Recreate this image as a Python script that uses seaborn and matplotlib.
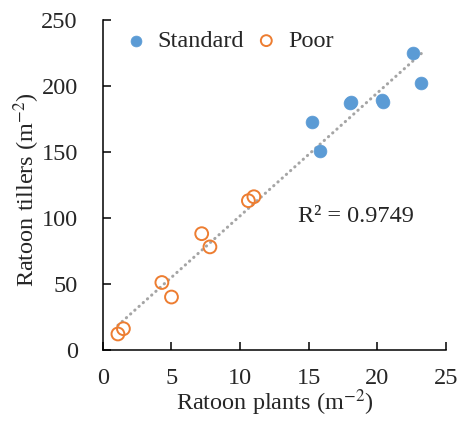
import numpy as np
import pandas as pd
import seaborn as sns
from matplotlib import pyplot as plt

# valori
standard_x = [15.2, 15.8, 18.0, 18.1, 20.3, 20.4, 22.6, 23.2]
standard_y = [173, 151, 187, 188, 189, 188, 225, 202]
poor_x = [1.1, 1.5, 4.3, 5.0, 7.2, 7.8, 10.6, 11.0]
poor_y = [12, 16, 51, 40, 88, 78, 113, 116]
r2_label = "R² = 0.9749"

sns.set_theme(style="ticks")
plt.rcParams['font.family'] = ['Liberation Serif', 'DejaVu Serif']
plt.rcParams['mathtext.fontset'] = 'stix'

df = pd.DataFrame({
    'x': standard_x + poor_x,
    'y': standard_y + poor_y,
    'grup': ['Standard'] * len(standard_x) + ['Poor'] * len(poor_x),
})

fig = plt.figure(figsize=(4.59, 4.23), dpi=100)
ax = fig.add_axes([0.224, 0.173, 0.748, 0.780])

# linia de tendinta
coef = np.polyfit(df['x'], df['y'], 1)
xl = np.array([min(poor_x), max(standard_x)])
ax.plot(xl, np.polyval(coef, xl), color='#A5A5A5', lw=2.2, ls=(0, (0.1, 1.75)),
        dash_capstyle='round', zorder=1)

std = df[df['grup'] == 'Standard']
poor = df[df['grup'] == 'Poor']
sns.scatterplot(data=std, x='x', y='y', ax=ax, color='#5B9BD5', s=85,
                edgecolor='#5B9BD5', linewidth=0.5, label='Standard', zorder=3)
sns.scatterplot(data=poor, x='x', y='y', ax=ax, facecolor='none', s=85,
                edgecolor='#ED7D31', linewidth=1.4, label='Poor', zorder=3)

ax.text(14.2, 101, r2_label, fontsize=17.5, va='center', ha='left')

ax.set_xlim(0, 25)
ax.set_ylim(0, 250)
ax.set_xticks([0, 5, 10, 15, 20, 25])
ax.set_yticks([0, 50, 100, 150, 200, 250])
ax.set_xlabel('Ratoon plants (m$^{-2}$)', fontsize=17.5)
ax.set_ylabel('Ratoon tillers (m$^{-2}$)', fontsize=17.5)
ax.xaxis.set_label_coords(0.5, -0.115)
ax.yaxis.set_label_coords(-0.178, 0.485)
ax.tick_params(direction='in', length=6, width=1.1, labelsize=17.5, color='black')
ax.tick_params(axis='y', pad=18)
ax.tick_params(axis='x', pad=13)
for s in ['left', 'bottom']:
    ax.spines[s].set_linewidth(1.1)
    ax.spines[s].set_color('black')
sns.despine(ax=ax)

ax.legend(loc='center left', ncol=2, frameon=False, fontsize=17.5, handlelength=1.0,
          handletextpad=0.4, columnspacing=0.42, borderpad=0, borderaxespad=0,
          markerscale=0.85, bbox_to_anchor=(0.06, 0.936))

fig.savefig('out.png', dpi=100)
